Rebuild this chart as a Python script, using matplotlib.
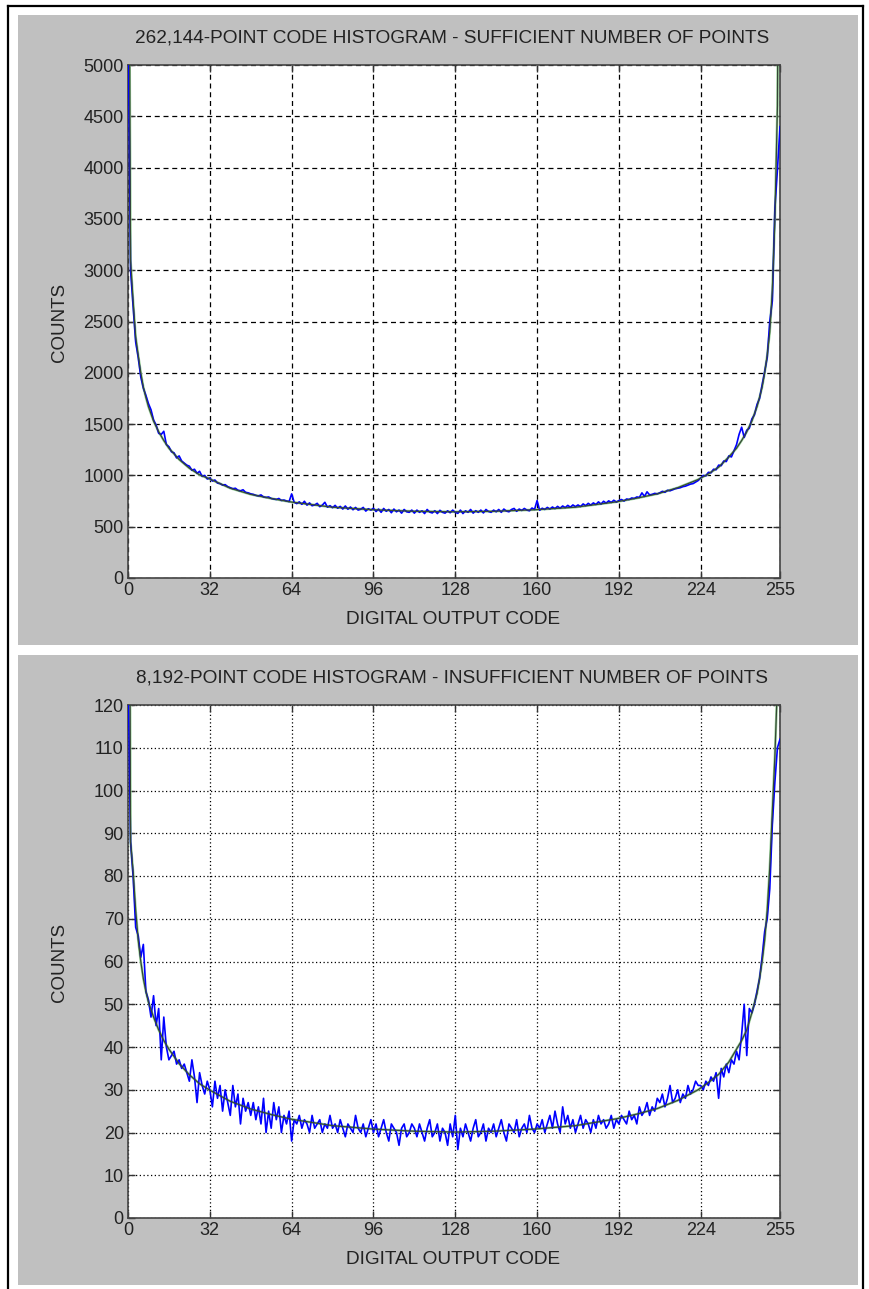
import matplotlib

matplotlib.use("Agg", force=True)

import matplotlib.pyplot as plt
from matplotlib.patches import Rectangle
from matplotlib.lines import Line2D

plt.rcParams['font.family'] = ['Liberation Sans', 'DejaVu Sans']

# ADC output codes 0..255
codes = list(range(256))

# smooth ideal histogram, read at a subset of codes (denser near the ends)
ideal_codes = [0, 1, 2, 3, 4, 5, 6, 7, 8, 10, 12, 14, 16, 20, 24, 28, 32, 40, 48, 56,
               64, 80, 96, 112, 128, 143, 159, 175, 191, 199, 207, 215, 223, 227, 231,
               235, 238, 240, 242, 244, 246, 247, 248, 249, 250, 251, 252, 253, 254, 255]
ideal_262k = [9000, 3100, 2700, 2350, 2170, 2000, 1860, 1760, 1670, 1530, 1425, 1340,
              1265, 1155, 1070, 1005, 965, 875, 815, 775, 740, 690, 665, 650, 645, 650,
              665, 690, 742, 778, 820, 880, 960, 1015, 1080, 1180, 1265, 1340, 1425,
              1530, 1670, 1760, 1860, 2000, 2170, 2400, 2800, 3500, 4600, 9000]
ideal_8k = [280, 88, 81, 72, 65, 60, 56, 53, 50.5, 47, 44, 41.5, 39.5, 36.1,
            33.5, 31.4, 29.9, 27.3, 25.5, 24.2, 23.1, 21.6, 20.8, 20.3, 20.1, 20.3, 20.8,
            21.6, 23.2, 24.3, 25.6, 27.5, 30, 31.7, 33.6, 36.5, 39.5, 41.5, 44, 48,
            52.5, 56, 60, 65, 72, 82, 95, 108, 125, 280]

# measured code histogram, 262,144 samples
counts_262k = [
    5600, 3000, 2650, 2300, 2150, 1960, 1850, 1780, 1700, 1640, 1540, 1490, 1410, 1400, 1430, 1300,
    1280, 1230, 1220, 1170, 1190, 1140, 1120, 1100, 1090, 1050, 1060, 1020, 1040, 990, 1000, 965,
    975, 945, 955, 925, 920, 905, 910, 890, 880, 870, 875, 855, 850, 860, 835, 830,
    820, 815, 805, 800, 810, 790, 785, 790, 775, 770, 765, 775, 755, 760, 750, 745,
    820, 738, 725, 742, 718, 748, 710, 732, 704, 712, 728, 695, 710, 738, 690, 705,
    685, 708, 680, 698, 672, 702, 670, 692, 665, 688, 662, 670, 688, 652, 675, 662,
    680, 648, 672, 640, 678, 650, 668, 636, 672, 645, 662, 632, 668, 645, 640, 662,
    632, 662, 640, 655, 628, 668, 642, 634, 656, 628, 660, 640, 632, 655, 636, 662,
    640, 630, 662, 628, 655, 640, 668, 632, 656, 640, 662, 634, 668, 648, 640, 662,
    645, 668, 640, 672, 652, 645, 668, 678, 650, 672, 658, 678, 662, 655, 682, 668,
    755, 660, 680, 668, 688, 672, 692, 676, 698, 680, 702, 686, 708, 690, 712, 696,
    712, 696, 722, 705, 728, 710, 732, 716, 742, 720, 748, 730, 752, 736, 758, 740,
    755, 765, 750, 770, 765, 780, 775, 790, 785, 830, 795, 840, 810, 815, 825, 820,
    830, 845, 835, 855, 850, 860, 870, 875, 880, 890, 895, 905, 915, 920, 935, 950,
    975, 1000, 995, 1030, 1025, 1060, 1055, 1100, 1095, 1140, 1135, 1190, 1180, 1240, 1300, 1400,
    1470, 1370, 1440, 1460, 1550, 1590, 1690, 1750, 1880, 2010, 2150, 2500, 2700, 3600, 3980, 4400,
]

# measured code histogram, 8,192 samples
counts_8k = [
    130, 88, 80, 68, 66, 61, 64, 53, 51, 47, 52, 45, 49, 37, 47, 40,
    37, 38, 39, 36, 37, 35, 36, 34, 32, 37, 33, 27, 34, 31, 29, 32,
    30, 26, 32, 28, 31, 25, 30, 27, 24, 31, 26, 29, 22, 28, 25, 27,
    24, 27, 23, 26, 22, 28, 20, 25, 21, 27, 23, 26, 20, 24, 22, 25,
    18, 23, 22, 24, 21, 23, 22, 20, 24, 21, 22, 23, 20, 22, 21, 24,
    21, 22, 20, 23, 21, 19, 22, 21, 20, 24, 21, 20, 22, 19, 21, 23,
    20, 22, 19, 21, 23, 20, 18, 22, 21, 20, 17, 21, 22, 19, 20, 22,
    21, 19, 22, 20, 18, 21, 23, 19, 20, 22, 18, 21, 20, 17, 22, 19,
    24, 16, 21, 19, 22, 20, 18, 21, 23, 19, 20, 22, 18, 21, 20, 22,
    19, 21, 23, 20, 18, 22, 21, 20, 23, 19, 21, 22, 20, 24, 21, 20,
    22, 21, 23, 20, 22, 24, 21, 25, 22, 20, 26, 22, 24, 21, 23, 20,
    22, 24, 21, 23, 22, 20, 23, 21, 24, 22, 23, 21, 22, 24, 21, 23,
    22, 24, 23, 22, 25, 23, 24, 22, 26, 24, 25, 27, 24, 26, 25, 28,
    27, 29, 26, 28, 31, 27, 28, 30, 27, 29, 28, 31, 29, 30, 32, 31,
    31, 30, 32, 31, 33, 32, 34, 28, 35, 33, 36, 34, 37, 36, 39, 37,
    43, 50, 38, 49, 48, 50, 53, 56, 61, 67, 70, 77, 92, 102, 110, 112,
]

xtick_vals = [0, 32, 64, 96, 128, 160, 192, 224, 255]
titles = ['262,144-POINT CODE HISTOGRAM - SUFFICIENT NUMBER OF POINTS',
          '8,192-POINT CODE HISTOGRAM - INSUFFICIENT NUMBER OF POINTS']

W, H = 870, 1289
fig = plt.figure(figsize=(W / 100, H / 100), dpi=100)
fig.patch.set_facecolor('white')


def box(x0, y0, x1, y1):
    # pixel box (top-left origin) -> figure fraction rect
    return [x0 / W, 1 - y1 / H, (x1 - x0) / W, (y1 - y0) / H]


# outer frame
for xs, ys in [([8, 863], [6, 6]), ([8, 8], [6, H]), ([863, 863], [6, H])]:
    fig.add_artist(Line2D([x / W for x in xs], [1 - y / H for y in ys],
                          color='black', lw=1.6, transform=fig.transFigure))

text_col = '#222222'


def panel(y_off, counts, ideal, ymax, ystep, title, ls):
    l, b, w, h = box(18, 15 + y_off, 858, 645 + y_off)
    fig.add_artist(Rectangle((l, b), w, h, transform=fig.transFigure,
                             facecolor='#c0c0c0', edgecolor='none', zorder=0))
    ax = fig.add_axes(box(128, 65 + y_off, 780, 578 + y_off))
    ax.set_facecolor('white')
    ax.plot(ideal_codes, ideal, color='#9ad49a', lw=1.8, zorder=2)
    ax.plot(codes, counts, color='#0000ff', lw=1.2, zorder=3)
    ax.plot(ideal_codes, ideal, color='#364536', lw=0.9, zorder=4)
    ax.set_xlim(0, 255)
    ax.set_ylim(0, ymax)
    ax.set_xticks(xtick_vals)
    ax.set_yticks(list(range(0, ymax + 1, ystep)))
    ax.grid(True, color='black', linestyle=ls, lw=0.9)
    ax.set_axisbelow(True)
    ax.tick_params(direction='in', top=True, right=True, length=5, width=1,
                   labelsize=13, pad=3, colors='#333333', labelcolor=text_col)
    for sp in ax.spines.values():
        sp.set_color('#444444')
        sp.set_linewidth(1.2)
    fig.text(452 / W, 1 - (38 + y_off) / H, title, ha='center', va='center',
             fontsize=13.7, color=text_col)
    fig.text(453 / W, 1 - (620 + y_off) / H, 'DIGITAL OUTPUT CODE', ha='center',
             va='center', fontsize=13.7, color=text_col)
    fig.text(60 / W, 1 - (322 + y_off) / H, 'COUNTS', ha='center', va='center',
             rotation=90, fontsize=13.5, color=text_col)
    return ax


panel(0, counts_262k, ideal_262k, 5000, 500, titles[0], (0, (4, 3)))
panel(640, counts_8k, ideal_8k, 120, 10, titles[1], (0, (1, 2)))

fig.savefig('out.png', dpi=100)
plt.close(fig)
